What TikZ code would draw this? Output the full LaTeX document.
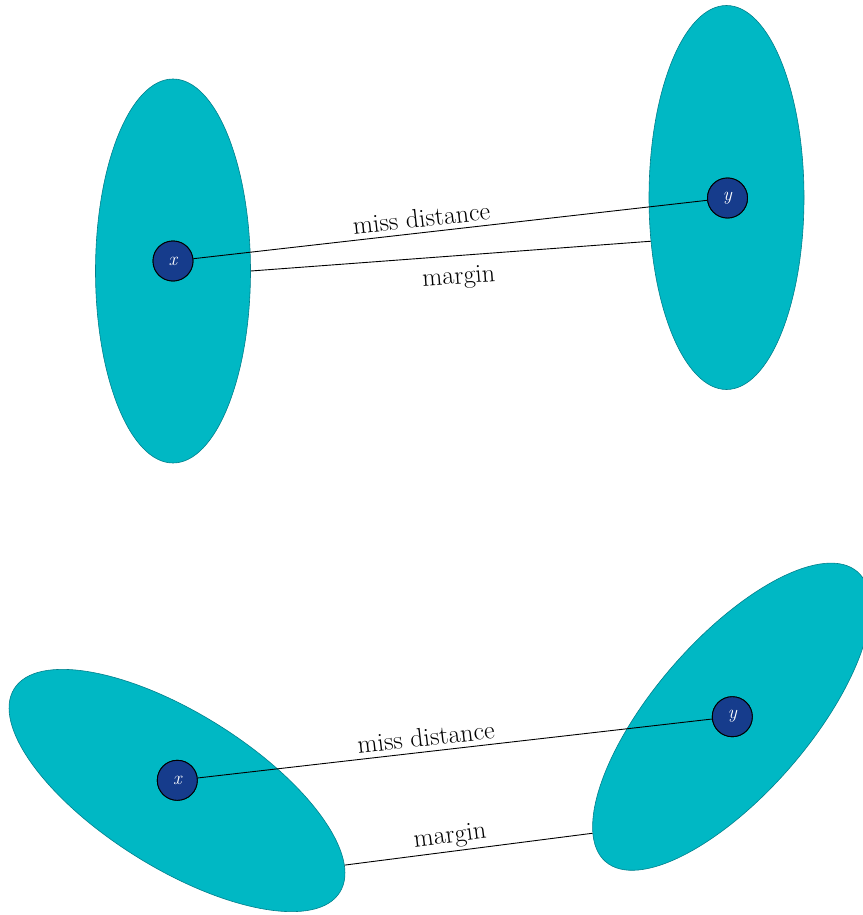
\documentclass[tikz,border=0pt]{standalone}
\usepackage{fontspec}
\usetikzlibrary{shapes.geometric}
\definecolor{blob}{RGB}{0,184,196}
\definecolor{blobedge}{RGB}{0,128,140}
\definecolor{ptfill}{RGB}{22,60,140}
\begin{document}
\begin{tikzpicture}[x=1pt,y=-1pt,
  region/.style={ellipse, draw=blobedge, line width=0.6pt, fill=blob, inner sep=0pt},
  wideregion/.style={region, minimum width=384pt, minimum height=155pt},
  tallregion/.style={region, minimum width=155pt, minimum height=384pt},
  point/.style={circle, draw=black, line width=0.9pt, fill=ptfill, inner sep=0pt,
    minimum size=40pt, text=white, font=\fontsize{19}{22}\selectfont\itshape},
  link/.style={draw=black, line width=0.9pt},
  lab/.style={font=\fontsize{26}{30}\selectfont, sloped, inner sep=5pt}]
\useasboundingbox (0,0) rectangle (862,915);
% top pair
\node[tallregion] (e1) at (173,271) {};
\node[tallregion] (e2) at (726.5,197.5) {};
\node[point] (x1) at (173,261) {x};
\node[point] (y1) at (727.5,198) {y};
\draw[link] (x1) -- (y1) node[lab, pos=0.447, above] {miss distance};
\draw[link] (e1.east) -- (e2.210.5) node[lab, pos=0.516, below, inner sep=11pt] {margin};
% bottom pair
\node[wideregion, rotate=-32] (e3) at (177,790.5) {};
\node[wideregion, rotate=49] (e4) at (731.5,716.7) {};
\node[point] (x2) at (177.3,780.3) {x};
\node[point] (y2) at (732.3,716.7) {y};
\draw[link] (x2) -- (y2) node[lab, pos=0.447, above] {miss distance};
\draw[link] (e3.8.6) -- (e4.171.7) node[lab, pos=0.433, above, inner sep=3pt] {margin};
\node[point] at (x1) {x};
\node[point] at (y1) {y};
\node[point] at (x2) {x};
\node[point] at (y2) {y};
\end{tikzpicture}
\end{document}
